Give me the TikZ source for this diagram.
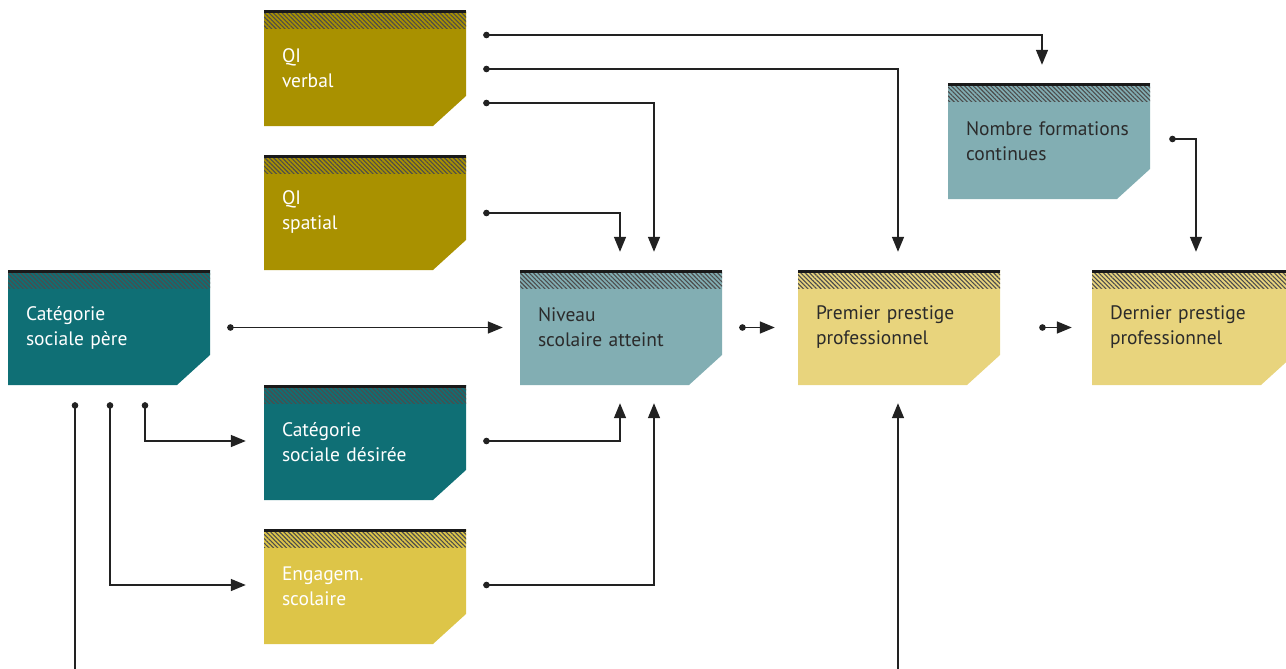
\documentclass[tikz,border=0pt]{standalone}
\usepackage{fontspec}
\setmainfont{PT Sans}
\usetikzlibrary{arrows.meta,patterns.meta}

\definecolor{olivefill}{HTML}{A99100}
\definecolor{tealfill}{HTML}{0F6F75}
\definecolor{paletealfill}{HTML}{82AEB3}
\definecolor{sandfill}{HTML}{E8D47D}
\definecolor{goldfill}{HTML}{DDC548}
\definecolor{darktext}{HTML}{2B2B2B}
\definecolor{linkcol}{HTML}{222222}

\tikzset{
  varbox/.style 2 args={minimum width=202pt, minimum height=115pt, inner sep=0pt,
    text width=166pt, align=left, text=#2,
    font=\fontsize{19.5pt}{25pt}\selectfont,
    path picture={
      \fill[#1] (path picture bounding box.north west) -- (path picture bounding box.north east)
        -- ([yshift=30pt]path picture bounding box.south east)
        -- ([xshift=-33pt]path picture bounding box.south east)
        -- (path picture bounding box.south west) -- cycle;
      \fill[pattern={Lines[angle=-45,distance=3.1pt,line width=1.1pt]}, pattern color=black!70]
        (path picture bounding box.north west) rectangle ([yshift=-18pt]path picture bounding box.north east);
      \draw[line width=5pt, black!90] (path picture bounding box.north west) -- (path picture bounding box.north east);
    }},
  olivebox/.style={varbox={olivefill}{white}},
  tealbox/.style={varbox={tealfill}{white}},
  paletealbox/.style={varbox={paletealfill}{darktext}},
  sandbox/.style={varbox={sandfill}{darktext}},
  goldbox/.style={varbox={goldfill}{white}},
}

\begin{document}
\begin{tikzpicture}[x=1pt, y=-1pt,
    >={Triangle[length=15pt,width=12pt]},
    link/.style={draw=linkcol, line width=1.5pt, {Circle[length=6.5pt]}->},
    plainlink/.style={draw=linkcol, line width=1.5pt, ->},
    stublink/.style={draw=linkcol, line width=1.5pt, {Circle[length=6.5pt]}-}]

  \useasboundingbox (0,0) rectangle (1286,669);

  % variables
  \node[olivebox]    (qiv) at (365,68.5)   {QI\\verbal};
  \node[olivebox]    (qis) at (365,212.5)  {QI\\spatial};
  \node[tealbox]     (csp) at (109,327.5)  {Catégorie\\sociale père};
  \node[tealbox]     (csd) at (365,442.5)  {Catégorie\\sociale désirée};
  \node[goldbox]     (eng) at (365,586.5)  {Engagem.\\scolaire};
  \node[paletealbox] (nsa) at (621,327.5)  {Niveau\\scolaire atteint};
  \node[sandbox]     (ppp) at (899,327.5)  {Premier prestige\\professionnel};
  \node[sandbox]     (dpp) at (1193,327.5) {Dernier prestige\\professionnel};
  \node[paletealbox] (nfc) at (1049,141.5) {Nombre formations\\continues};

  \coordinate (cutl) at (75,700);
  \coordinate (cutr) at (898,700);

  % from QI
  \draw[link] ([xshift=17pt,yshift=33.5pt]qiv.east) -| ([xshift=-7pt,yshift=19pt]nfc.north);
  \draw[link] ([xshift=17pt,yshift=-0.5pt]qiv.east) -| ([xshift=-1pt,yshift=18pt]ppp.north);
  \draw[link] ([xshift=17pt,yshift=-34.5pt]qiv.east) -| ([xshift=33pt,yshift=18pt]nsa.north);
  \draw[link] ([xshift=17pt,yshift=-0.5pt]qis.east) -| ([xshift=-1pt,yshift=18pt]nsa.north);

  % main chain
  \draw[link] ([xshift=17pt]csp.east) -- ([xshift=-17pt]nsa.west);
  \draw[link] ([xshift=17pt]nsa.east) -- ([xshift=-23pt]ppp.west);
  \draw[link] ([xshift=39pt]ppp.east) -- ([xshift=-20pt]dpp.west);
  \draw[link] ([xshift=19pt,yshift=2.5pt]nfc.east) -| ([xshift=3pt,yshift=18pt]dpp.north);

  % from father
  \draw[link] ([xshift=36pt,yshift=-17pt]csp.south) |- ([xshift=-18pt,yshift=1.5pt]csd.west);
  \draw[link] ([xshift=1pt,yshift=-17pt]csp.south) |- ([xshift=-18pt,yshift=1.5pt]eng.west);
  \draw[stublink] ([xshift=-34pt,yshift=-17pt]csp.south) -- (cutl);

  % into school level from below
  \draw[link] ([xshift=17pt,yshift=1.5pt]csd.east) -| ([xshift=-1pt,yshift=-18pt]nsa.south);
  \draw[link] ([xshift=17pt,yshift=1.5pt]eng.east) -| ([xshift=33pt,yshift=-18pt]nsa.south);
  \draw[plainlink] (cutr) -- ([xshift=-1pt,yshift=-18pt]ppp.south);

\end{tikzpicture}
\end{document}
